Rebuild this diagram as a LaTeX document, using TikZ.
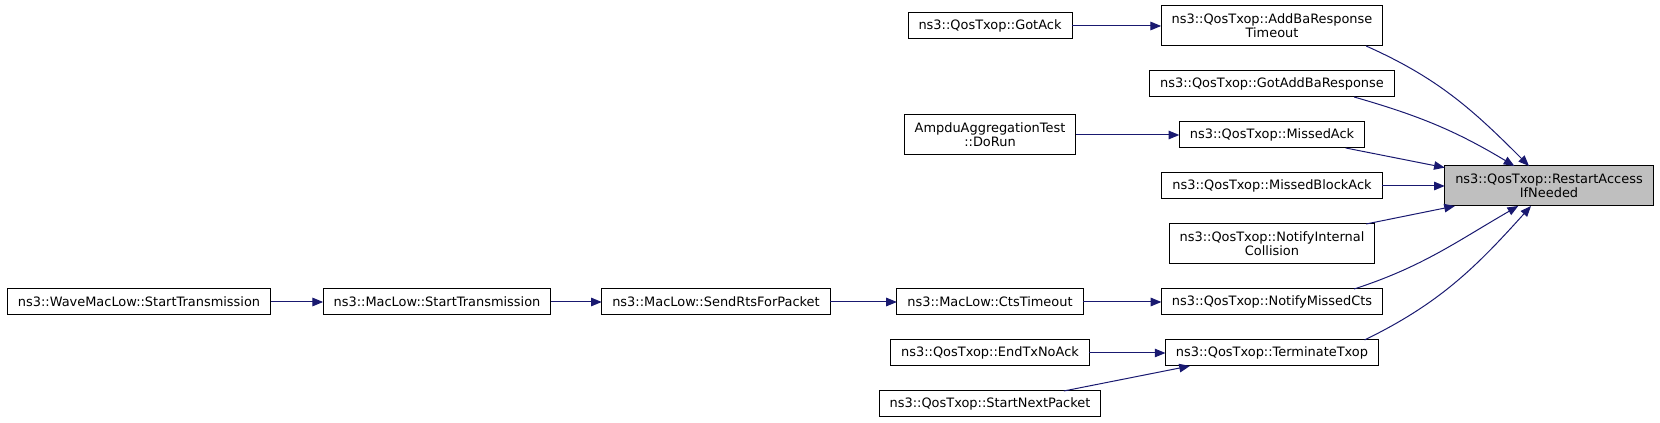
\documentclass[tikz,border=0pt]{standalone}
\usepackage{fontspec}
\setmainfont{DejaVu Sans}
\usepackage{tikz}
\usetikzlibrary{arrows.meta, positioning}
\definecolor{callblue}{HTML}{191970}
\definecolor{hilite}{HTML}{BFBFBF}

\begin{document}
\begin{tikzpicture}[x=0.75pt, y=0.75pt, node distance=18.75pt and 40pt,
		fn/.style={draw=black, line width=0.75pt, fill=white, outer sep=0pt, inner xsep=7.9pt, inner ysep=2pt, minimum height=19.5pt, align=center, font=\fontsize{9.7pt}{10.5pt}\selectfont},
		fntwo/.style={fn, minimum height=30pt},
		call/.style={draw=callblue, line width=0.75pt, -{Triangle[length=8pt, width=6.4pt]}}]
			\useasboundingbox (0,0) rectangle (1660,-423);
			\node[fntwo] (addba) at (1272,-26) {ns3::QosTxop::AddBaResponse\\Timeout};
				\node[fn, below =of addba] (gotaddba) {ns3::QosTxop::GotAddBaResponse};
				\node[fn, below =of gotaddba] (missedack) {ns3::QosTxop::MissedAck};
				\node[fn, below =of missedack] (missedblock) {ns3::QosTxop::MissedBlockAck};
				\node[fntwo, below =of missedblock] (notifyint) {ns3::QosTxop::NotifyInternal\\Collision};
				\node[fn, below =of notifyint] (notifymissed) {ns3::QosTxop::NotifyMissedCts};
				\node[fn, below =of notifymissed] (terminate) {ns3::QosTxop::TerminateTxop};
			\node[fntwo, fill=hilite] (restart) at (1549,-186) {ns3::QosTxop::RestartAccess\\IfNeeded};
			\node[fn] (gotack) at (990,-26) {ns3::QosTxop::GotAck};
			\node[fntwo] (dorun) at (990,-135) {AmpduAggregationTest\\::DoRun};
			\node[fn] (ctstimeout) at (990,-302) {ns3::MacLow::CtsTimeout};
				\node[fn, below =of ctstimeout] (endtx) {ns3::QosTxop::EndTxNoAck};
				\node[fn, below =of endtx] (startnext) {ns3::QosTxop::StartNextPacket};
			\node[fn] (sendrts) at (716,-302) {ns3::MacLow::SendRtsForPacket};
			\node[fn] (macstart) at (437,-302) {ns3::MacLow::StartTransmission};
			\node[fn] (wave) at (139,-302) {ns3::WaveMacLow::StartTransmission};
			\foreach \from/\to in {gotack/addba,dorun/missedack,missedblock/restart,wave/macstart,macstart/sendrts,sendrts/ctstimeout,ctstimeout/notifymissed,endtx/terminate}
				\draw[call] (\from) -- (\to);
			\draw[call] (missedack.-10) -- (restart.170);
			\draw[call] (notifyint.12) -- (restart.192);
			\draw[call] (startnext.10) -- (terminate.189);
			\draw[call] (addba.-12) to[out=-24, in=135] (restart.135);
			\draw[call] (gotaddba.-9.5) to[out=-16, in=149] (restart.150);
			\draw[call] (notifymissed.9.5) to[out=18, in=-150] (restart.213);
			\draw[call] (terminate.8) to[out=26, in=-132] (restart.228);
		\end{tikzpicture}
\end{document}
